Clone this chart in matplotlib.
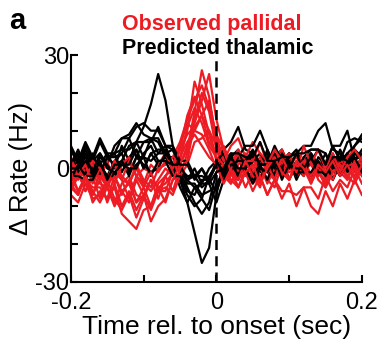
import numpy as np
import matplotlib
matplotlib.use('Agg')
import matplotlib.pyplot as plt

plt.rcParams['font.family'] = ['Liberation Sans', 'DejaVu Sans']

# time bins (sec), 10 ms steps
t = np.round(np.arange(-20, 21) * 0.01, 2)

# observed pallidal rate changes (Hz)
red_lines = [
    [-3,-1,-6,-2,-4,-5,-1,-3,-8,-2,-4,-6,-3,0,-2,1,5,15,26,19,7,1,-2,2,4,-1,1,-3,2,5,1,-2,3,2,-1,-3,1,4,0,-2,3],
    [-6,-2,-4,-7,-1,-5,-9,-4,-2,-7,-8,-3,-5,-4,-1,3,10,23,17,9,2,-3,1,3,-2,2,0,-3,-5,1,3,-2,0,4,-1,-4,0,3,1,-1,2],
    [-4,-7,-2,-9,-6,-8,-5,-12,-14,-16,-11,-10,-5,-9,-3,-2,4,13,20,15,5,0,-4,1,3,-2,-5,2,4,-1,-3,2,0,1,-1,-4,2,1,-2,1,0],
    [1,-3,0,-2,-2,-5,1,-3,-4,0,-4,1,-1,2,-2,3,7,10,14,18,8,3,-1,-5,0,-4,-2,-7,-3,-6,-6,-7,-5,-10,-12,-6,-10,-4,-8,-3,-7],
    [-7,-9,-4,-8,-7,-3,-8,-11,-7,-13,-8,-10,-6,-6,-1,2,11,16,12,6,3,-2,2,-3,1,3,-2,0,4,-2,1,3,0,-3,1,0,4,-1,-3,2,1],
    [3,-2,2,1,-3,2,-4,1,3,-2,0,-1,1,4,0,5,9,11,14,10,6,2,6,8,3,7,4,2,3,5,0,4,1,1,-2,2,3,-1,4,0,3],
    [-5,-1,-6,-2,-8,-4,-2,-7,-3,-9,-5,-10,-4,-2,1,6,12,10,9,5,0,-2,-4,0,-5,-1,1,-4,0,2,-3,1,-2,2,-3,-5,-1,1,-2,-4,0],
    [2,-2,1,-4,0,-3,2,-2,-4,1,-3,-5,0,1,3,7,13,18,22,16,9,5,0,4,-1,0,3,-1,-3,2,0,-1,3,-2,2,-1,-3,2,1,1,-2],
    [-2,-6,-3,-5,-5,-8,-2,-6,-9,-3,-7,-11,-6,-5,-7,-2,1,7,8,10,3,1,-3,-5,-1,-6,-2,-7,-3,-8,-4,-10,-5,-5,-8,-2,-6,-3,-5,0,-4],
    [0,1,-3,2,0,-4,1,-3,2,-2,-5,-1,-6,-2,0,5,14,19,14,7,4,6,1,5,2,2,7,1,5,2,4,-1,6,1,5,0,4,-1,3,5,2],
    [-5,-7,-2,-6,-9,-5,-10,-6,-4,-9,-7,-3,-8,-2,-6,0,2,12,18,25,13,5,-1,-3,2,-2,-4,1,-3,3,-1,0,2,-4,0,-5,-1,1,-3,2,-2],
    [-1,-6,-2,-7,-3,-9,-4,-10,-6,-11,-7,-14,-10,-8,-3,1,6,9,6,3,1,-4,0,-5,-1,1,-4,0,3,-1,-3,2,0,-4,1,-1,2,-2,1,-3,1],
]

# predicted thalamic rate changes (Hz)
black_lines = [
    [3,-1,4,0,-2,3,1,2,6,7,11,17,25,18,6,-1,-3,-2,0,-3,1,3,-1,-3,2,4,-1,0,3,-1,2,-3,1,3,0,4,-1,0,3,0,1],
    [0,4,-1,3,-2,2,4,-1,3,5,0,4,1,3,0,-3,-9,-17,-25,-21,-7,2,4,-1,3,-2,2,4,-1,3,-3,1,2,4,0,-2,3,1,0,4,2],
    [1,3,-2,2,4,1,6,8,9,12,9,8,7,3,3,-1,-5,-9,-12,-9,-1,3,-1,4,0,-3,1,3,-2,2,4,-1,0,3,-1,2,-3,1,4,0,3],
    [2,0,5,1,1,4,0,6,2,7,3,8,4,4,0,-3,-7,-10,-8,-2,1,5,7,11,5,4,0,5,1,1,4,0,-2,3,1,2,0,3,-1,2,4],
    [0,2,-3,1,1,-2,2,4,-1,3,3,2,4,6,1,1,-4,-4,-7,-6,-5,0,3,-1,0,2,4,-1,3,5,0,4,6,6,10,12,5,4,0,5,3],
    [1,5,0,4,-1,3,4,8,8,11,12,10,10,6,5,0,-2,-2,-5,-3,-6,-1,2,-2,3,1,-3,2,4,-1,3,5,0,4,1,1,6,6,10,2,5],
    [-1,-1,2,-2,3,1,-2,2,-2,3,1,-1,0,4,1,-5,-9,-5,-4,0,2,4,-1,3,6,6,10,5,0,4,1,-1,2,-2,3,1,-3,2,4,1,0],
    [-2,-2,-3,-3,1,-2,-2,2,-1,1,3,-2,2,2,1,1,-3,-5,-8,-11,-4,-1,2,-2,3,-2,1,-3,2,0,4,-1,-1,2,5,1,1,-2,4,6,9],
    [5,1,6,2,7,3,3,4,8,3,7,7,11,6,6,2,2,-2,-2,-3,1,-2,3,5,0,4,1,1,6,2,2,-2,3,5,5,4,0,5,1,6,8],
    [0,0,3,-1,4,0,-1,1,1,5,0,4,5,5,1,1,-3,0,-4,-4,-9,-3,1,2,2,5,1,1,-2,3,0,4,-1,-1,2,-2,3,3,2,2,0],
    [-3,1,-2,-2,2,-3,1,1,0,0,4,6,2,2,-2,-2,-6,-7,-3,-3,2,-1,3,0,0,-4,0,-1,3,-3,1,0,0,3,-1,-1,2,-2,1,3,-1],
    [6,2,7,3,8,4,4,5,5,7,7,8,8,4,5,1,1,-3,0,-4,-1,0,4,4,3,3,7,2,2,3,3,4,4,5,5,1,6,2,7,8,7],
]

RED = '#ed1c24'

fig = plt.figure(figsize=(3.83, 3.51), dpi=100)
ax = fig.add_axes([0.185, 0.197, 0.76, 0.646])

for r, b in zip(red_lines, black_lines):
    ax.plot(t, r, color=RED, lw=1.6, zorder=2)
    ax.plot(t, b, color='black', lw=1.6, zorder=2)

ax.axvline(0, color='black', lw=1.8, ls=(0, (4, 2.5)), zorder=3)

ax.set_xlim(-0.2, 0.2)
ax.set_ylim(-30, 30)
ax.set_xticks([-0.2, -0.1, 0, 0.1, 0.2])
ax.set_xticklabels(['-0.2', '', '0', '', '0.2'])
ax.set_yticks([-30, -20, -10, 0, 10, 20, 30])
ax.set_yticklabels(['-30', '', '', '0', '', '', '30'])
ax.tick_params(direction='in', length=5, width=1.5, labelsize=17)
ax.tick_params(axis='x', pad=7)
ax.tick_params(axis='y', pad=1)
for s in ['top', 'right']:
    ax.spines[s].set_visible(False)
for s in ['left', 'bottom']:
    ax.spines[s].set_linewidth(1.5)

ax.set_xlabel('Time rel. to onset (sec)', fontsize=19, labelpad=1)
ax.set_ylabel('\u0394 Rate (Hz)', fontsize=18.5, labelpad=2)

fig.text(0.318, 0.929, 'Observed pallidal', color=RED, fontsize=15.5,
         fontweight='bold', ha='left', va='center')
fig.text(0.318, 0.862, 'Predicted thalamic', color='black', fontsize=15.5,
         fontweight='bold', ha='left', va='center')
fig.text(0.025, 0.94, 'a', fontsize=21, fontweight='bold', ha='left', va='center')

fig.savefig('out.png', dpi=100)
